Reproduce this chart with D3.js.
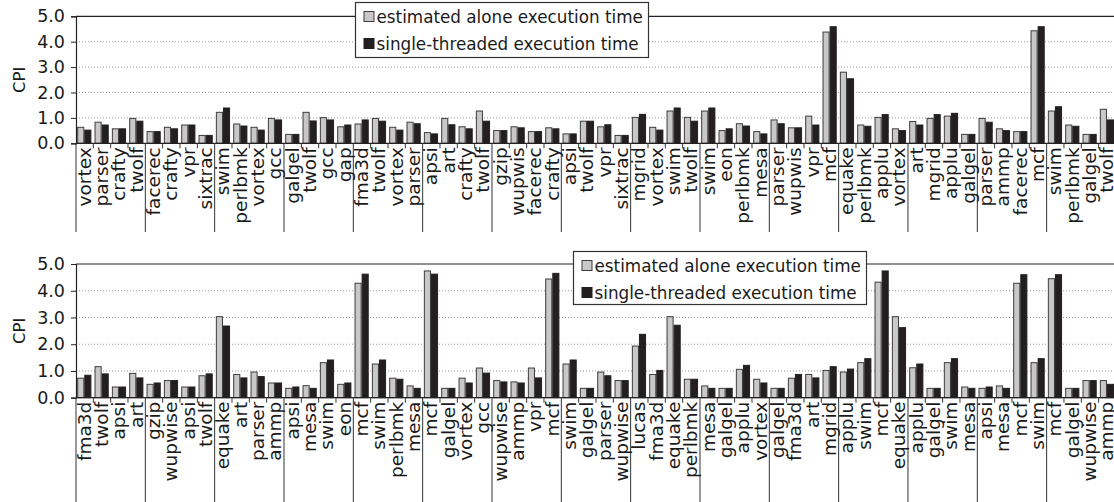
<!DOCTYPE html>
<html>
<head>
<meta charset="utf-8">
<script src="https://cdn.jsdelivr.net/npm/d3@7/dist/d3.min.js"></script>
<style>
  html, body { margin: 0; padding: 0; background: #fff; }
  svg { display: block; }
  text { font-family: "DejaVu Sans", Verdana, sans-serif; fill: #1a1a1a; }
</style>
</head>
<body>
<svg id="chart" width="1114" height="502"></svg>
<script>
// Workload mixes of four benchmarks each, two panels
const topLabels = [
  "vortex","parser","crafty","twolf", "facerec","crafty","vpr","sixtrac",
  "swim","perlbmk","vortex","gcc", "galgel","twolf","gcc","gap",
  "fma3d","twolf","vortex","parser", "apsi","art","crafty","twolf",
  "gzip","wupwis","facerec","crafty", "apsi","twolf","vpr","sixtrac",
  "mgrid","vortex","swim","twolf", "swim","eon","perlbmk","mesa",
  "parser","wupwis","vpr","mcf", "equake","perlbmk","applu","vortex",
  "art","mgrid","applu","galgel", "parser","ammp","facerec","mcf",
  "swim","perlbmk","galgel","twolf"
];
const topEstimated = [
  0.63,0.83,0.57,0.98, 0.46,0.63,0.72,0.31,
  1.22,0.76,0.63,0.98, 0.35,1.22,1.01,0.65,
  0.76,0.98,0.63,0.83, 0.42,0.98,0.65,1.27,
  0.50,0.65,0.46,0.61, 0.37,0.87,0.65,0.31,
  1.02,0.63,1.27,1.02, 1.27,0.50,0.77,0.46,
  0.92,0.61,1.07,4.38, 2.80,0.72,1.02,0.57,
  0.86,0.98,1.07,0.35, 0.98,0.57,0.46,4.43,
  1.27,0.72,0.35,1.34
];
const topSingle = [
  0.52,0.72,0.57,0.87, 0.46,0.57,0.72,0.31,
  1.39,0.68,0.52,0.92, 0.35,0.88,0.92,0.72,
  0.92,0.87,0.52,0.77, 0.37,0.73,0.57,0.87,
  0.50,0.61,0.46,0.57, 0.37,0.87,0.73,0.31,
  1.14,0.52,1.39,0.87, 1.39,0.57,0.68,0.37,
  0.77,0.61,0.72,4.59, 2.54,0.67,1.13,0.50,
  0.72,1.13,1.18,0.35, 0.83,0.50,0.46,4.59,
  1.44,0.67,0.35,0.92
];

const bottomLabels = [
  "fma3d","twolf","apsi","art", "gzip","wupwise","apsi","twolf",
  "equake","art","parser","ammp", "apsi","mesa","swim","eon",
  "mcf","swim","perlbmk","mesa", "mcf","galgel","vortex","gcc",
  "wupwise","ammp","vpr","mcf", "swim","galgel","parser","wupwise",
  "lucas","fma3d","equake","perlbmk", "mesa","galgel","applu","vortex",
  "galgel","fma3d","art","mgrid", "applu","swim","mcf","equake",
  "applu","galgel","swim","mesa", "apsi","mesa","mcf","swim",
  "mcf","galgel","wupwise","ammp"
];
const bottomEstimated = [
  0.73,1.16,0.40,0.91, 0.50,0.64,0.40,0.82,
  3.03,0.87,0.96,0.55, 0.35,0.45,1.31,0.50,
  4.28,1.26,0.73,0.44, 4.74,0.35,0.73,1.11,
  0.64,0.59,1.11,4.44, 1.26,0.35,0.96,0.64,
  1.93,0.87,3.03,0.69, 0.44,0.35,1.06,0.69,
  0.35,0.73,0.87,1.02, 0.96,1.31,4.32,3.03,
  1.12,0.35,1.31,0.40, 0.35,0.44,4.28,1.31,
  4.45,0.35,0.64,0.64
];
const bottomSingle = [
  0.84,0.89,0.40,0.74, 0.55,0.64,0.40,0.89,
  2.68,0.74,0.79,0.55, 0.40,0.35,1.41,0.55,
  4.62,1.41,0.69,0.35, 4.62,0.35,0.55,0.92,
  0.59,0.55,0.74,4.65, 1.41,0.35,0.82,0.64,
  2.37,1.02,2.71,0.69, 0.35,0.35,1.21,0.55,
  0.35,0.87,0.74,1.16, 1.07,1.46,4.74,2.62,
  1.26,0.35,1.46,0.35, 0.40,0.35,4.60,1.46,
  4.60,0.35,0.64,0.50
];

const seriesNames = ["estimated alone execution time", "single-threaded execution time"];
const seriesColors = ["#c8c8c8", "#231f20"];
const yTicks = [0, 1, 2, 3, 4, 5];
const groupSize = 4;

const svg = d3.select("#chart");
const W = 1114, H = 502;
svg.append("rect").attr("width", W).attr("height", H).attr("fill", "#fff");

const left = 76, step = 17.333;

function drawPanel(cfg) {
  const n = cfg.labels.length;
  const g = svg.append("g");

  const x = d3.scaleBand().domain(d3.range(n)).range([left, left + n * step]).padding(0);
  const xs = d3.scaleBand().domain([0, 1]).range([1.2, 15.4]).padding(0);
  const y = d3.scaleLinear().domain([0, 5]).range([cfg.y0, cfg.y5]);

  // dotted gridlines
  g.append("g").selectAll("line").data(yTicks.filter(t => t > 0 && t < 5)).join("line")
    .attr("x1", left).attr("x2", W)
    .attr("y1", d => y(d)).attr("y2", d => y(d))
    .attr("stroke", "#9a9a9a").attr("stroke-width", 1).attr("stroke-dasharray", "1,2");

  // top border of plot area
  g.append("line").attr("x1", left).attr("x2", W)
    .attr("y1", y(5)).attr("y2", y(5)).attr("stroke", "#222").attr("stroke-width", 1.2);

  // bars
  const rows = d3.range(n).map(i => ({ i, v: [cfg.est[i], cfg.single[i]] }));
  const grp = g.append("g").selectAll("g").data(rows).join("g")
    .attr("transform", d => `translate(${x(d.i)},0)`);
  grp.selectAll("rect").data(d => d.v.map((v, k) => ({ v, k }))).join("rect")
    .attr("x", d => xs(d.k) + 0.5)
    .attr("width", xs.bandwidth() - 1)
    .attr("y", d => y(d.v))
    .attr("height", d => y(0) - y(d.v))
    .attr("fill", d => seriesColors[d.k])
    .attr("stroke", d => d.k === 0 ? "#3c3c3c" : "#231f20")
    .attr("stroke-width", 1);

  // y axis
  const ya = g.append("g").attr("transform", `translate(${left},0)`)
    .call(d3.axisLeft(y).tickValues(yTicks).tickFormat(d3.format(".1f")).tickSize(5).tickPadding(6));
  ya.select(".domain").attr("stroke", "#222").attr("stroke-width", 1.2);
  ya.selectAll(".tick line").attr("stroke", "#222");
  ya.selectAll("text").attr("font-size", 17.5).attr("fill", "#1a1a1a")
    .attr("font-family", "DejaVu Sans, Verdana, sans-serif");

  // x axis baseline with small ticks at category boundaries
  const xa = g.append("g").attr("transform", `translate(0,${y(0)})`);
  xa.append("line").attr("x1", left).attr("x2", W).attr("y1", 0).attr("y2", 0)
    .attr("stroke", "#222").attr("stroke-width", 1.2);
  xa.selectAll("line.tk").data(d3.range(n + 1)).join("line").attr("class", "tk")
    .attr("x1", i => left + i * step).attr("x2", i => left + i * step)
    .attr("y1", 0).attr("y2", i => i % groupSize === 0 ? cfg.sepBottom - y(0) : 5)
    .attr("stroke", "#333").attr("stroke-width", 1);

  // rotated category labels
  xa.selectAll("text").data(cfg.labels).join("text")
    .attr("transform", (d, i) => `translate(${x(i) + step / 2 + 6},4) rotate(-90)`)
    .attr("text-anchor", "end")
    .attr("font-size", 18.5)
    .text(d => d);

  // y title
  g.append("text")
    .attr("transform", `translate(25,${(y(0) + y(5)) / 2}) rotate(-90)`)
    .attr("text-anchor", "middle").attr("font-size", 16.5).text("CPI");

  // legend
  const lg = g.append("g").attr("transform", `translate(${cfg.lx},${cfg.ly})`);
  lg.append("rect").attr("width", cfg.lw).attr("height", cfg.lh)
    .attr("fill", "#fff").attr("stroke", "#333").attr("stroke-width", 1.2);
  seriesNames.forEach((s, k) => {
    const row = lg.append("g").attr("transform", `translate(0,${14 + k * 27})`);
    row.append("rect").attr("x", 8.5).attr("y", -5).attr("width", 10).attr("height", 10)
      .attr("fill", seriesColors[k]).attr("stroke", k === 0 ? "#3c3c3c" : "#231f20");
    row.append("text").attr("x", 21).attr("y", 6).attr("font-size", 16.8).text(s);
  });
}

drawPanel({
  labels: topLabels, est: topEstimated, single: topSingle,
  y0: 143.3, y5: 16.3, sepBottom: 232,
  lx: 355.5, ly: 2.5, lw: 293, lh: 55
});
drawPanel({
  labels: bottomLabels, est: bottomEstimated, single: bottomSingle,
  y0: 397.7, y5: 264, sepBottom: 506,
  lx: 573.5, ly: 251.5, lw: 293, lh: 53
});
</script>
</body>
</html>
